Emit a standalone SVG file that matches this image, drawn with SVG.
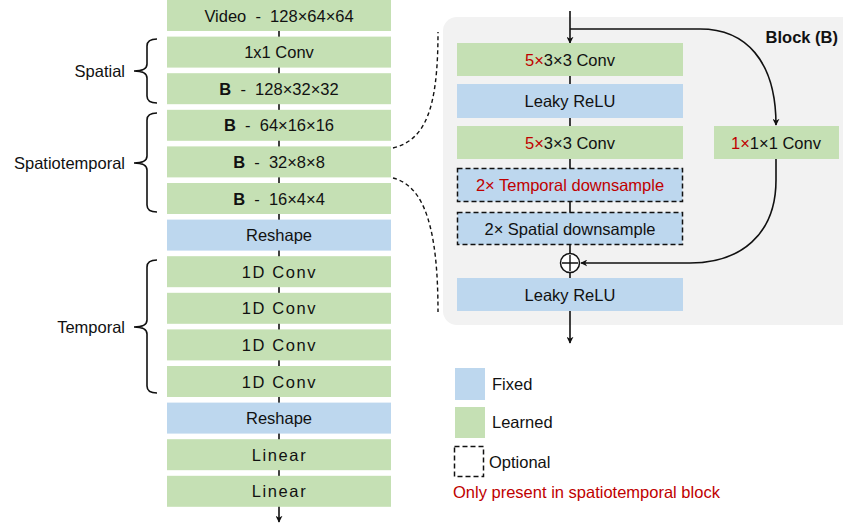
<svg xmlns="http://www.w3.org/2000/svg" width="843" height="527" viewBox="0 0 843 527">
<defs>
<style>
text{font-family:"Liberation Sans",Arial,sans-serif;font-size:16.5px;fill:#111}
.g{fill:#c5e0b4}
.b{fill:#bdd7ee}
.c{text-anchor:middle}
.sp{letter-spacing:1.6px}
.r{fill:#c00000}
.ln{stroke:#111;stroke-width:1.6;fill:none}
.dash{stroke:#111;stroke-width:1.4;fill:none;stroke-dasharray:4 3}
.opt{stroke:#111;stroke-width:1.5;stroke-dasharray:5 3}
</style>
<marker id="ah" viewBox="0 0 10 10" refX="9" refY="5" markerWidth="7" markerHeight="7" orient="auto-start-reverse" markerUnits="userSpaceOnUse">
<path d="M0,0 L10,5 L0,10 L3,5 z" fill="#111"/>
</marker>
</defs>
<rect width="843" height="527" fill="#fff"/>
<rect x="443" y="17" width="420" height="308" rx="14" fill="#f2f2f2"/>
<g id="connectors">
<line class="ln" x1="279" y1="0" x2="279" y2="522" marker-end="url(#ah)"/>
<path class="dash" d="M393,148 C425,140 438,110 438,32"/>
<path class="dash" d="M393,178 C425,186 438,230 438,312"/>
<line class="ln" x1="570" y1="11" x2="570" y2="43" marker-end="url(#ah)"/>
<line class="ln" x1="570" y1="76" x2="570" y2="253"/>
<line class="ln" x1="570" y1="273" x2="570" y2="343" marker-end="url(#ah)"/>
<path class="ln" d="M570,29 L700,29 C745,29 776,60 776,125" marker-end="url(#ah)"/>
<path class="ln" d="M776,159 L776,180 C776,235 740,263 690,263 L581,263" marker-end="url(#ah)"/>
<path class="ln" d="M157,39 C150,39 147,41 147,46 L147,64 C147,69 143,71 134,71 C143,71 147,73 147,78 L147,96 C147,101 150,103 157,103"/>
<path class="ln" d="M157,113 C150,113 147,115 147,120 L147,156 C147,161 143,163 134,163 C143,163 147,165 147,170 L147,205 C147,210 150,212 157,212"/>
<path class="ln" d="M157,260 C150,260 147,262 147,267 L147,320 C147,325 143,327 134,327 C143,327 147,329 147,334 L147,386 C147,391 150,393 157,393"/>
</g>
<text x="125" y="77" text-anchor="end">Spatial</text>
<text x="125" y="169" text-anchor="end">Spatiotemporal</text>
<text x="125" y="333" text-anchor="end">Temporal</text>
<g id="video"><rect class="g" x="167" y="0" width="224" height="31"/><text class="c" x="279" y="21.5">Video&#160; - &#160;128×64×64</text></g>
<g id="conv1x1"><rect class="g" x="167" y="36.6" width="224" height="31"/><text class="c" x="279" y="58">1x1 Conv</text></g>
<g id="b128"><rect class="g" x="167" y="73.2" width="224" height="31"/><text class="c" x="279" y="94.7"><tspan font-weight="bold">B</tspan>&#160; - &#160;128×32×32</text></g>
<g id="b64"><rect class="g" x="167" y="109.8" width="224" height="31"/><text class="c" x="279" y="131.3"><tspan font-weight="bold">B</tspan>&#160; - &#160;64×16×16</text></g>
<g id="b32"><rect class="g" x="167" y="146.4" width="224" height="31"/><text class="c" x="279" y="167.9"><tspan font-weight="bold">B</tspan>&#160; - &#160;32×8×8</text></g>
<g id="b16"><rect class="g" x="167" y="183" width="224" height="31"/><text class="c" x="279" y="204.5"><tspan font-weight="bold">B</tspan>&#160; - &#160;16×4×4</text></g>
<g id="reshape1"><rect class="b" x="167" y="219.6" width="224" height="31"/><text class="c" x="279" y="241">Reshape</text></g>
<g id="conv1d1"><rect class="g" x="167" y="256.2" width="224" height="31"/><text class="c sp" x="279.5" y="277.7">1D Conv</text></g>
<g id="conv1d2"><rect class="g" x="167" y="292.8" width="224" height="31"/><text class="c sp" x="279.5" y="314.3">1D Conv</text></g>
<g id="conv1d3"><rect class="g" x="167" y="329.4" width="224" height="31"/><text class="c sp" x="279.5" y="350.9">1D Conv</text></g>
<g id="conv1d4"><rect class="g" x="167" y="366" width="224" height="31"/><text class="c sp" x="279.5" y="387.5">1D Conv</text></g>
<g id="reshape2"><rect class="b" x="167" y="402.6" width="224" height="31"/><text class="c" x="279" y="424">Reshape</text></g>
<g id="linear1"><rect class="g" x="167" y="439.2" width="224" height="31"/><text class="c sp" x="279.5" y="460.7">Linear</text></g>
<g id="linear2"><rect class="g" x="167" y="475.8" width="224" height="31"/><text class="c sp" x="279.5" y="497.3">Linear</text></g>
<text x="838" y="43" text-anchor="end" font-weight="bold" font-size="14.5">Block (B)</text>
<g id="conv533a"><rect class="g" x="457" y="43" width="226" height="33"/><text class="c" x="570" y="65.5"><tspan class="r">5×</tspan>3×3 Conv</text></g>
<g id="relu1"><rect class="b" x="457" y="84" width="226" height="34"/><text class="c" x="570" y="106.5">Leaky ReLU</text></g>
<g id="conv533b"><rect class="g" x="457" y="126" width="226" height="33"/><text class="c" x="570" y="148.5"><tspan class="r">5×</tspan>3×3 Conv</text></g>
<g id="tdown"><rect class="b opt" x="457.5" y="168.5" width="225" height="33"/><text class="c r" x="570" y="191">2× Temporal downsample</text></g>
<g id="sdown"><rect class="b opt" x="457.5" y="212.5" width="225" height="32"/><text class="c" x="570" y="234.5">2× Spatial downsample</text></g>
<g id="add"><circle cx="570" cy="263" r="9.5" fill="#fff" stroke="#111" stroke-width="1.5"/><path d="M570,255 V271 M562,263 H578" stroke="#111" stroke-width="1.4"/></g>
<g id="relu2"><rect class="b" x="457" y="278" width="226" height="33"/><text class="c" x="570" y="300.5">Leaky ReLU</text></g>
<g id="conv111"><rect class="g" x="714" y="126" width="125" height="33"/><text class="c" x="776" y="148.5"><tspan class="r">1×</tspan>1×1 Conv</text></g>
<g id="legend">
<rect class="b" x="455" y="368" width="30" height="32"/><text x="492" y="390">Fixed</text>
<rect class="g" x="455" y="407" width="30" height="31"/><text x="492" y="428">Learned</text>
<rect x="454.5" y="446.5" width="29" height="30" fill="none" class="opt"/><text x="489" y="468">Optional</text>
<text x="453" y="498" class="r">Only present in spatiotemporal block</text>
</g>
</svg>
